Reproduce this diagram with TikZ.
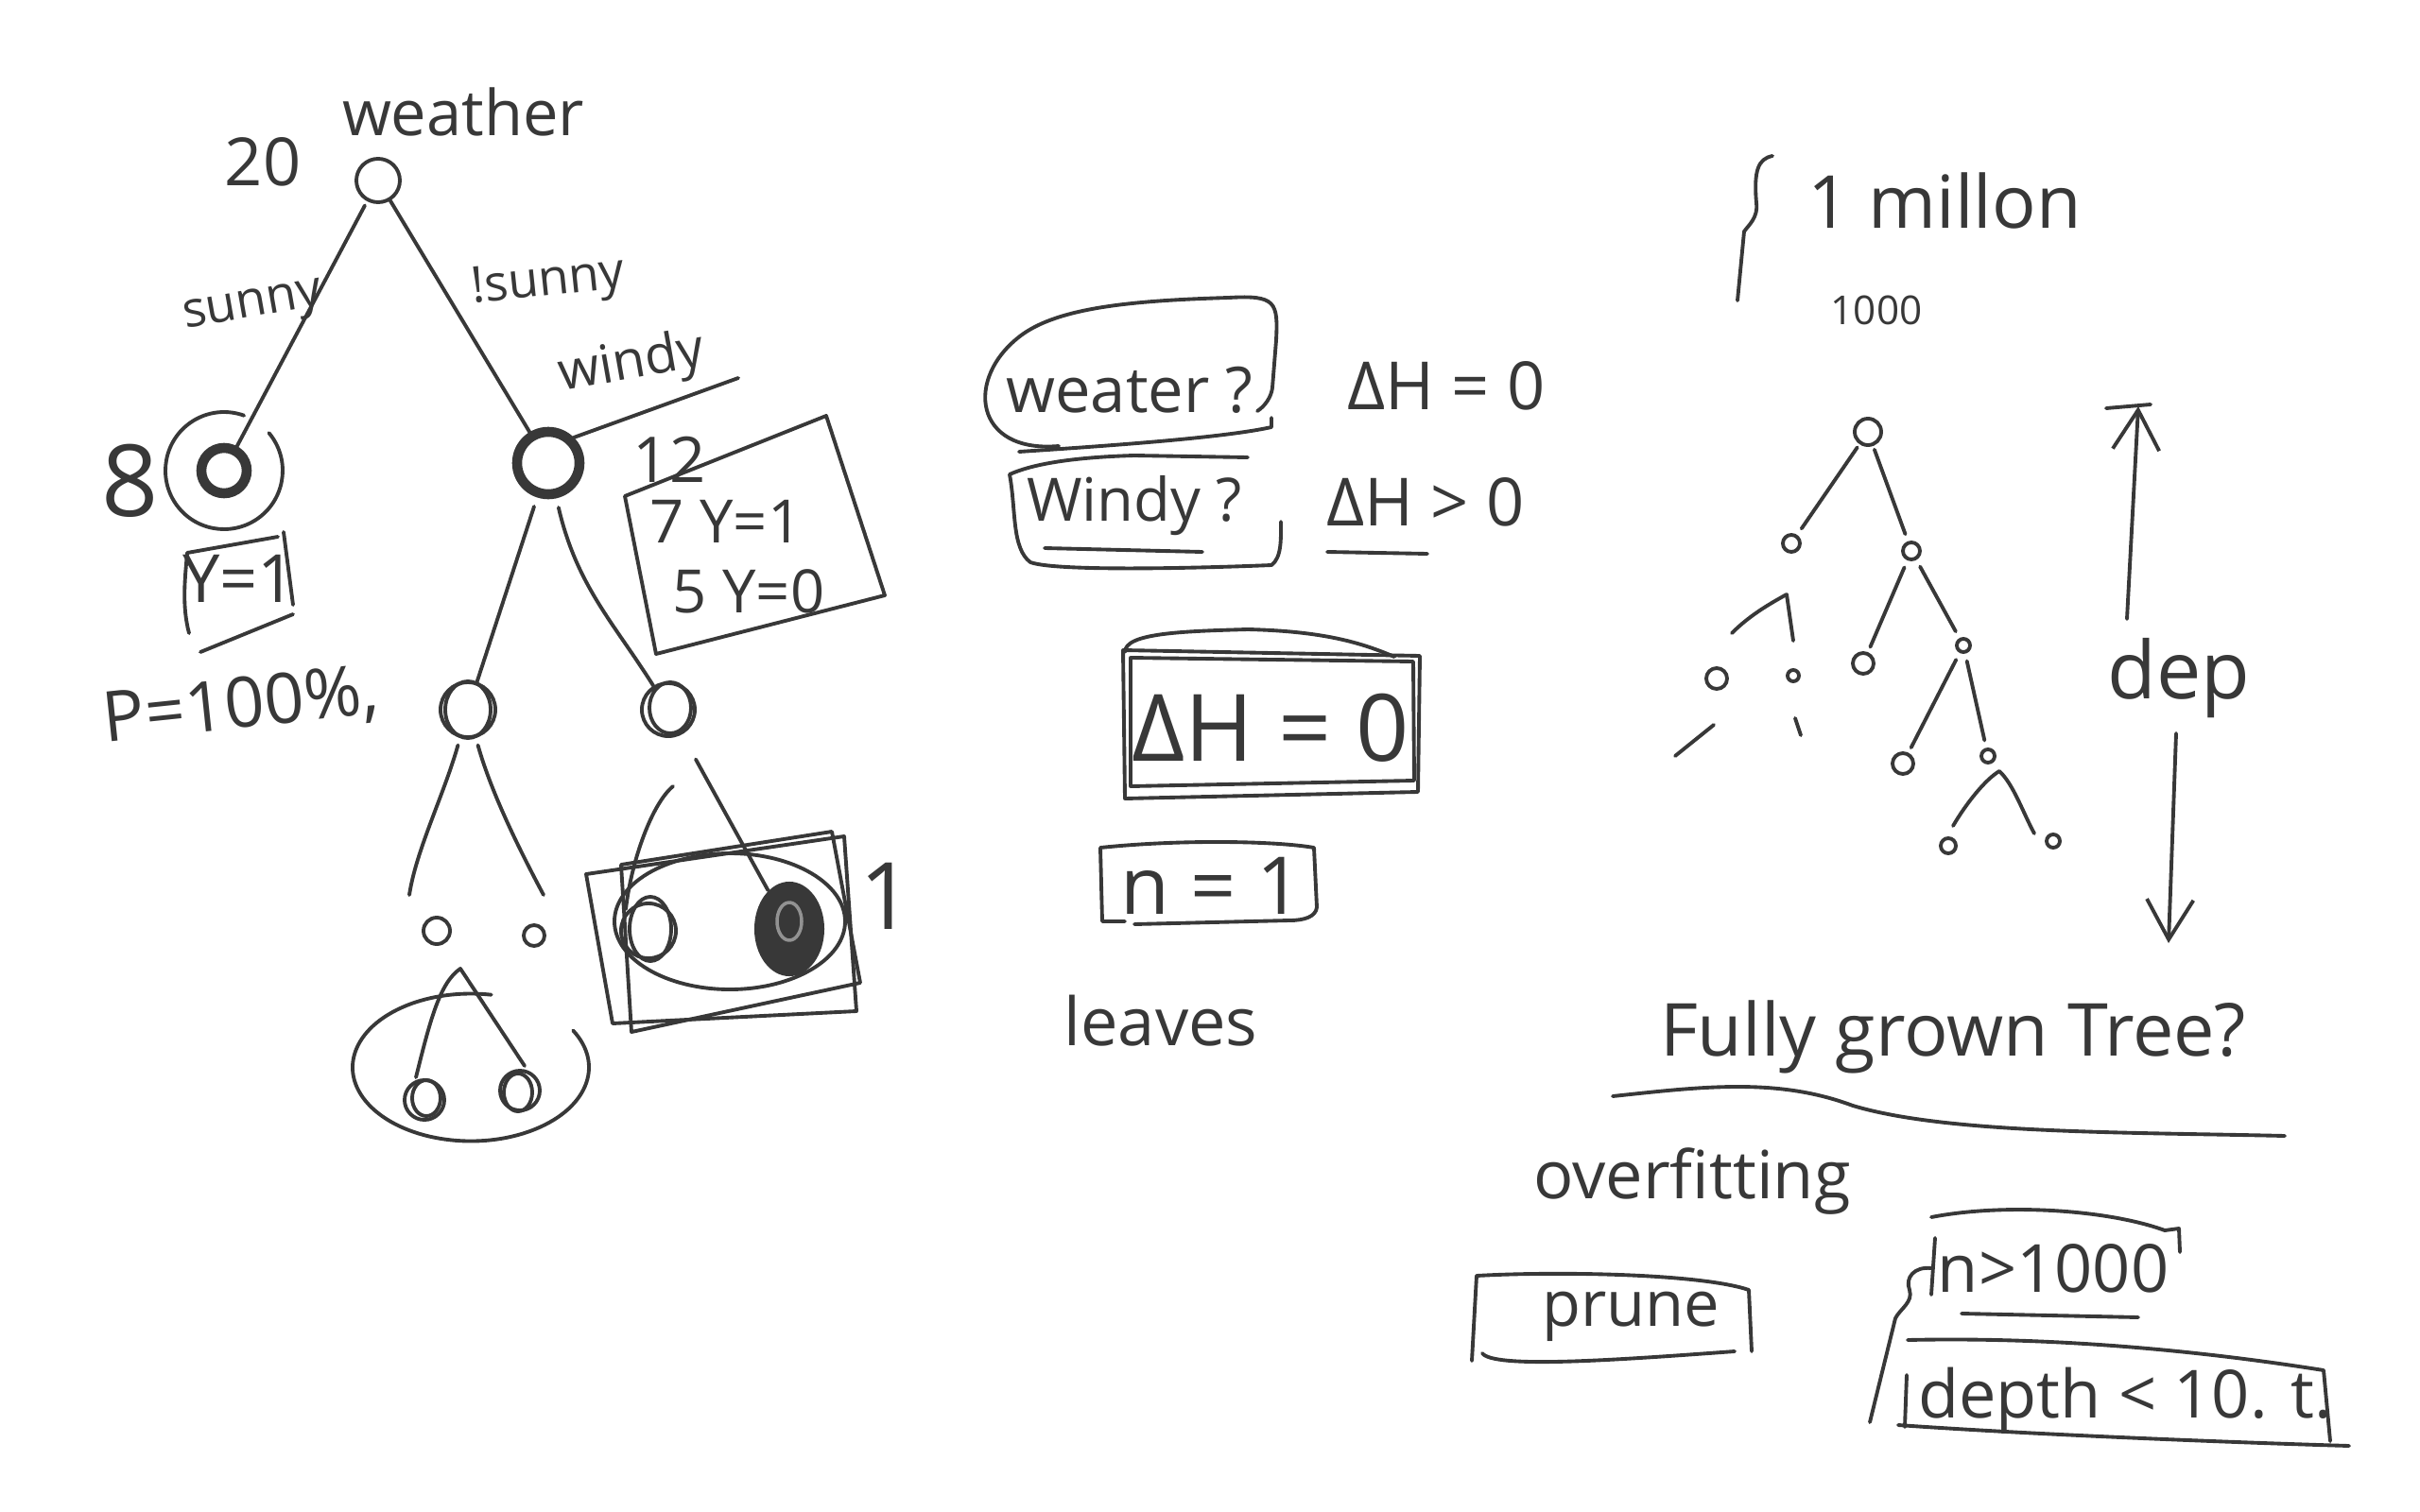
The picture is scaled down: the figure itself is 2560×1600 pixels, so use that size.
\documentclass[tikz,border=0pt]{standalone}
\usepackage{fontspec}
\setmainfont{Open Sans}
\usetikzlibrary{arrows.meta,shapes.geometric}
\definecolor{ink}{HTML}{383838}
\begin{document}
\begin{tikzpicture}[x=0.01cm,y=-0.01cm,line cap=round,line join=round,
  pen/.style={draw=ink,line width=1.1pt},
  txt/.style={text=ink,inner sep=0pt,font=\fontsize{#1}{#1}\selectfont},
  tn/.style={circle,draw=ink,line width=1.1pt,inner sep=0pt,minimum size=#1},
  bn/.style={circle,draw=ink,line width=3pt,inner sep=0pt,minimum size=#1},
  dot/.style={ellipse,inner sep=0pt,minimum size=#1}]
\useasboundingbox[fill=white] (0,0) rectangle (2560,1600);

% ---------------- left tree ----------------
\node[txt=19] (weather) at (490,118) {weather};
\node[txt=20] (n20) at (278,171) {20};
\node[tn=0.46cm] (root) at (400,191) {};

\node[bn=0.48cm] (n1) at (237,498) {};
\draw[pen] ([shift={(-40:62)}]n1.center) arc[start angle=-40,end angle=290,radius=62];
\node[txt=30] (eight) at (138,509) {8};
\node[txt=15,rotate=10] (sunny) at (268,327) {sunny};
\node[txt=15,rotate=6] (nsunny) at (580,300) {!sunny};

\node[bn=0.66cm] (n2) at (580,490) {};
\node[txt=16,rotate=10] (windy) at (668,386) {windy};
\draw[pen] (n2.north east) -- (781,400);
\node[txt=19] (twelve) at (708,486) {12};

\draw[pen,shorten <=0.05cm] (root) -- (n1);
\draw[pen] (root) -- (n2);

% Y=1 box
\node[txt=20] (y1) at (253,612) {Y=1};
\draw[pen] (200,670) .. controls (192,640) and (196,610) .. (198,585) -- (294,568);
\draw[pen] (300,563) -- (310,640);
\draw[pen] (212,690) -- (310,650);
\node[txt=21,rotate=6] (p100) at (255,748) {P=100\%,};

% 7Y=1 5Y=0 box
\draw[pen] (661,525) -- (874,440) -- (936,630) -- (694,692) -- cycle;
\node[txt=18] (y7) at (768,552) {7 Y=1};
\node[txt=18] (y5) at (792,626) {5 Y=0};

% windy children
\node[tn=0.58cm] (n3) at (495,751) {};
\draw[pen] (495,751) ellipse[x radius=24,y radius=30];
\node[tn=0.56cm] (n4) at (707,751) {};
\draw[pen] (709,749) ellipse[x radius=22,y radius=27];
\draw[pen,shorten <=0.1cm] (n2) -- (n3);
\draw[pen,shorten <=0.1cm] (n2) .. controls (610,620) and (650,660) .. (n4);

% n3 children
\node[tn=0.28cm] (n5) at (462,985) {};
\node[tn=0.22cm] (n6) at (565,990) {};
\coordinate (c5) at (433,947);
\coordinate (c6) at (575,947);
\draw[pen,shorten <=0.08cm] (n3) .. controls (470,840) and (440,900) .. (c5);
\draw[pen,shorten <=0.08cm] (n3) .. controls (520,840) and (550,900) .. (c6);
\coordinate (a5) at (487,1025);
\node[tn=0.42cm] (n7) at (449,1164) {};
\draw[pen] (451,1162) ellipse[x radius=15,y radius=19];
\node[tn=0.42cm] (n8) at (550,1154) {};
\draw[pen] (548,1156) ellipse[x radius=15,y radius=20];
\coordinate (l7) at (440,1140);
\coordinate (l8) at (555,1128);
\draw[pen] (l7) .. controls (455,1080) and (465,1040) .. (a5) -- (l8);
\draw[pen] ([shift={(-30:125)}]498,1153) arc[start angle=-30,end angle=280,x radius=125,y radius=78];

% n4 children
\node[tn=0.58cm] (n9) at (686,985) {};
\draw[pen] (688,983) ellipse[x radius=22,y radius=34];
\node[dot=0.2cm,fill=ink,minimum width=0.74cm,minimum height=1cm] (n10) at (835,983) {};
\draw[ink!55,line width=1pt] (835,975) ellipse[x radius=13,y radius=20];
\coordinate (a4) at (712,832);
\coordinate (l9) at (662,962);
\draw[pen] (a4) .. controls (690,850) and (668,910) .. (l9);
\draw[pen,shorten <=0.3cm] (n4) -- (n10);
\draw[pen] (620,925) -- (893,885) -- (906,1070) -- (648,1083) -- cycle;
\draw[pen] (657,915) -- (880,880) -- (910,1040) -- (668,1092) -- cycle;
\draw[pen] (772,975) ellipse[x radius=122,y radius=72];
\node[txt=28] (one) at (938,948) {1};

% ---------------- middle ----------------
\node[txt=19] (weater) at (1195,413) {weater ?};
\draw[pen] (1120,472) .. controls (1030,480) and (1020,400) .. (1080,355)
   .. controls (1120,325) and (1200,318) .. (1300,315) .. controls (1350,312) and (1352,320) .. (1350,360)
   -- (1346,410) .. controls (1345,420) and (1338,430) .. (1330,435);
\draw[pen] (1078,478) .. controls (1200,470) and (1300,462) .. (1345,452) -- (1345,442);
\node[txt=20] (dh0) at (1530,408) {ΔH = 0};

\node[txt=18] (windyq) at (1200,535) {Windy ?};
\draw[pen] (1320,484) -- (1200,482) .. controls (1130,484) and (1090,492) .. (1068,502)
   .. controls (1075,540) and (1070,580) .. (1090,595) .. controls (1120,606) and (1300,600) .. (1345,598)
   .. controls (1356,590) and (1355,570) .. (1355,552);
\draw[pen] (1105,580) -- (1272,584);
\node[txt=20] (dhg) at (1508,531) {ΔH > 0};
\draw[pen] (1404,584) -- (1510,586);

\node[txt=28] (dhbig) at (1344,770) {ΔH = 0};
\draw[pen] (1188,688) -- (1502,694) -- (1500,838) -- (1190,845) -- cycle;
\draw[pen] (1196,696) -- (1495,700) -- (1496,826) -- (1196,832) -- cycle;
\draw[pen] (1190,690) .. controls (1190,670) and (1250,668) .. (1320,666) .. controls (1400,668) and (1440,680) .. (1475,695);
\node[txt=24] (n1box) at (1282,937) {n = 1};
\draw[pen] (1190,975) -- (1166,975) -- (1164,897) .. controls (1250,888) and (1350,890) .. (1390,897)
   -- (1393,960) .. controls (1392,970) and (1380,974) .. (1364,974) -- (1200,978);
\node[txt=20] (leaves) at (1228,1080) {leaves};

% ---------------- right ----------------
\draw[pen] (1875,165) .. controls (1860,168) and (1855,180) .. (1858,215)
   .. controls (1860,230) and (1850,238) .. (1845,245) -- (1838,318);
\node[txt=22] (million) at (2057,212) {1 millon};
\node[txt=12] (thousand) at (1985,328) {1000};

\node[tn=0.28cm] (t0) at (1976,457) {};
\node[tn=0.18cm] (t1) at (1895,575) {};
\node[tn=0.18cm] (t2) at (2022,583) {};
\node[tn=0.22cm] (t3) at (1816,718) {};
\node[tn=0.12cm] (t4) at (1897,715) {};
\node[tn=0.22cm] (t5) at (1971,702) {};
\node[tn=0.14cm] (t6) at (2077,683) {};
\node[tn=0.22cm] (t7) at (2013,808) {};
\node[tn=0.14cm] (t8) at (2103,800) {};
\node[tn=0.16cm] (t9) at (2061,895) {};
\node[tn=0.14cm] (t10) at (2172,890) {};
\draw[pen,shorten <=0.04cm,shorten >=0.08cm] (t0) -- (t1);
\draw[pen,shorten <=0.04cm,shorten >=0.08cm] (t0) -- (t2);
\draw[pen,shorten <=0.08cm,shorten >=0.06cm] (t2) -- (t5);
\draw[pen,shorten <=0.08cm,shorten >=0.08cm] (t2) -- (t6);
\draw[pen,shorten <=0.08cm,shorten >=0.06cm] (t6) -- (t7);
\draw[pen,shorten <=0.08cm,shorten >=0.08cm] (t6) -- (t8);
\coordinate (ta1) at (1890,629);
\coordinate (tl3) at (1832,670);
\coordinate (tl4) at (1897,678);
\draw[pen] (tl3) .. controls (1850,652) and (1870,640) .. (ta1) -- (tl4);
\coordinate (ta8) at (2115,816);
\coordinate (tl9) at (2066,874);
\coordinate (tl10) at (2152,882);
\draw[pen] (tl9) .. controls (2080,850) and (2100,825) .. (ta8) .. controls (2130,830) and (2140,860) .. (tl10);
\draw[pen] (1772,800) -- (1813,767);
\draw[pen] (1899,760) -- (1905,778);

\coordinate (upb) at (2250,655);
\coordinate (upt) at (2262,430);
\draw[pen,-{Straight Barb[length=12pt,width=14pt]}] (upb) -- (upt);
\draw[pen] (2228,432) -- (2275,428);
\node[txt=24] (dep) at (2305,718) {dep};
\coordinate (dnt) at (2302,776);
\coordinate (dnb) at (2294,998);
\draw[pen,-{Straight Barb[length=12pt,width=14pt]}] (dnt) -- (dnb);

\node[txt=22] (fully) at (2066,1097) {Fully grown Tree?};
\draw[pen] (1706,1160) .. controls (1800,1150) and (1880,1140) .. (1960,1170)
   .. controls (2060,1200) and (2250,1198) .. (2417,1202);
\node[txt=20] (overfit) at (1790,1250) {overfitting};

\node[txt=19] (prune) at (1725,1393) {prune};
\draw[pen] (1557,1440) -- (1562,1350) .. controls (1650,1345) and (1800,1348) .. (1850,1365) -- (1853,1430);
\draw[pen] (1568,1432) .. controls (1580,1448) and (1700,1440) .. (1835,1430);

\node[txt=20] (n1000) at (2172,1342) {n>1000};
\draw[pen] (2043,1370) -- (2047,1310);
\draw[pen] (2043,1288) .. controls (2120,1273) and (2230,1280) .. (2290,1302) -- (2305,1300) -- (2306,1325);
\draw[pen] (2075,1390) -- (2262,1394);
\draw[pen] (2043,1342) .. controls (2025,1340) and (2015,1352) .. (2020,1365)
   .. controls (2024,1378) and (2010,1385) .. (2005,1395) -- (1978,1505);

\node[txt=20] (depth) at (2248,1482) {depth < 10. t.};
\draw[pen] (2018,1418) .. controls (2150,1415) and (2300,1425) .. (2458,1450) -- (2465,1525);
\draw[pen] (2017,1455) -- (2015,1510);
\draw[pen] (2008,1508) .. controls (2150,1518) and (2350,1526) .. (2485,1530);
\end{tikzpicture}
\end{document}
